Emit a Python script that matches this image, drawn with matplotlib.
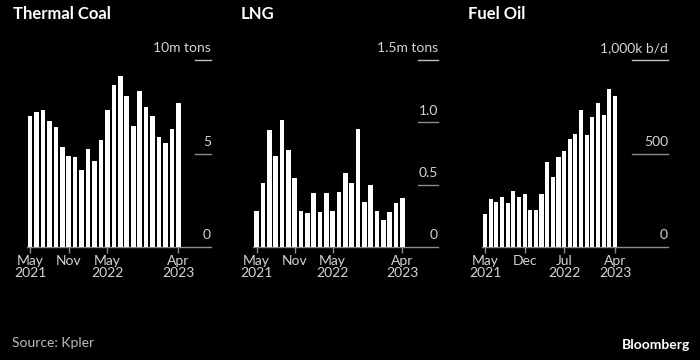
import matplotlib
matplotlib.use("Agg")
import matplotlib.pyplot as plt
import matplotlib.transforms as mtransforms

plt.rcParams['font.family'] = ['Lato', 'DejaVu Sans']

# Monthly exports, May 2021 - Apr 2023
coal = [7.0, 7.2, 7.3, 6.75, 6.4, 5.35, 4.85, 4.8, 4.1, 5.25, 4.6, 5.7,
        7.35, 8.65, 9.15, 8.05, 6.45, 8.35, 7.5, 7.0, 5.9, 5.55, 6.3, 7.7]
lng = [0.29, 0.51, 0.94, 0.73, 1.02, 0.78, 0.55, 0.29, 0.27, 0.43, 0.28, 0.43,
       0.29, 0.44, 0.59, 0.51, 0.95, 0.36, 0.50, 0.29, 0.22, 0.28, 0.35, 0.39]
fuel_oil = [177, 259, 239, 270, 236, 300, 266, 286, 196, 200, 282, 452,
            377, 479, 513, 580, 604, 732, 600, 695, 768, 704, 846, 809]

titles = ['Thermal Coal', 'LNG', 'Fuel Oil']
units = ['10m tons', '1.5m tons', '1,000k b/d']
y_ticks = [[0, 5, 10], [0, 0.5, 1.0, 1.5], [0, 500, 1000]]
y_labels = [['0', '5'], ['0', '0.5', '1.0'], ['0', '500']]
x_ticks = [[0, 6, 12, 23], [0, 6, 12, 23], [0, 7, 14, 23]]
x_labels = [['May\n2021', 'Nov', 'May\n2022', 'Apr\n2023'],
            ['May\n2021', 'Nov', 'May\n2022', 'Apr\n2023'],
            ['May\n2021', 'Dec', 'Jul\n2022', 'Apr\n2023']]
series = [coal, lng, fuel_oil]

# layout in pixels: (axes left, axes right, x-limit right, grid segment start)
W, H = 700, 360
layout = [(26.8, 211, 28.06, 195),
          (253.5, 438, 28.64, 418),
          (482.2, 668, 32.38, 632)]
title_x = [13, 241, 468]
ax_top, ax_bottom = 60, 247

BG = 'black'
TEXT = '#d4d4d4'
GRID = '#8c8c8c'

fig = plt.figure(figsize=(7, 3.6), dpi=100, facecolor=BG)

for i in range(3):
    left, right, xmax, gx = layout[i]
    ax = fig.add_axes([left / W, (H - ax_bottom) / H, (right - left) / W,
                       (ax_bottom - ax_top) / H])
    ax.set_facecolor(BG)
    vals = series[i]
    ax.bar(range(len(vals)), vals, width=0.72, color='white', zorder=3)
    ax.set_xlim(-0.5, xmax)
    ax.set_ylim(0, y_ticks[i][-1])

    for s in ['top', 'left', 'right']:
        ax.spines[s].set_visible(False)
    ax.spines['bottom'].set_color(GRID)
    ax.spines['bottom'].set_linewidth(1)

    ax.set_yticks([])
    ax.set_xticks(x_ticks[i], x_labels[i])
    ax.tick_params(axis='x', colors=GRID, length=4, width=1, pad=2,
                   labelcolor=TEXT, labelsize=10)
    for lab in ax.get_xticklabels():
        lab.set_linespacing(1.0)

    # short gridline segments under the right-hand labels
    frac = (gx - left) / (right - left)
    trans = mtransforms.blended_transform_factory(ax.transAxes, ax.transData)
    lift = trans + mtransforms.ScaledTranslation(0, 4 / 72, fig.dpi_scale_trans)
    labels = y_labels[i] + [units[i]]
    for v, lab in zip(y_ticks[i], labels):
        if v != 0:
            col = '#bdbdbd' if lab == units[i] else GRID
            ax.axhline(v, xmin=frac, xmax=1, color=col, lw=1, clip_on=False)
        ax.text(1, v, lab, transform=lift, ha='right', va='bottom',
                color=TEXT, fontsize=10)

    fig.text(title_x[i] / W, 1 - 14 / H, titles[i], color='white',
             fontsize=12, fontweight='bold', ha='left', va='center')

fig.text(12 / W, 1 - 343 / H, 'Source: Kpler', color='#bdbdbd',
         fontsize=10, ha='left', va='center')
fig.text(690 / W, 1 - 345 / H, 'Bloomberg', color='white', fontsize=10,
         fontweight='bold', ha='right', va='center')

fig.savefig('out.png', dpi=100, facecolor=BG)
